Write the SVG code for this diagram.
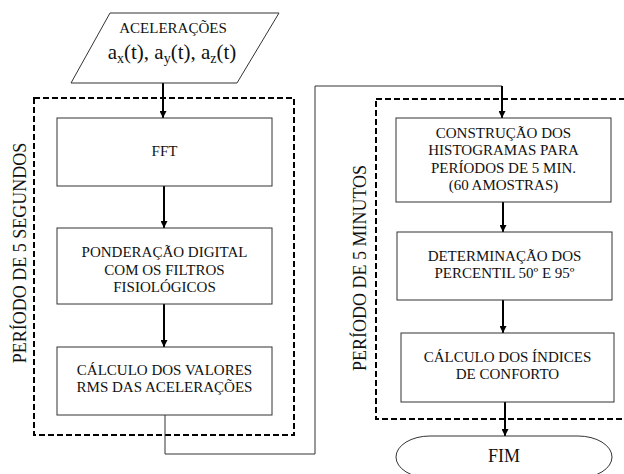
<svg xmlns="http://www.w3.org/2000/svg" width="624" height="474" viewBox="0 0 624 474" font-family="'Liberation Serif', 'DejaVu Serif', serif">
<defs>
<marker id="ah" viewBox="0 0 10 10" refX="10" refY="5" markerWidth="7" markerHeight="7" markerUnits="userSpaceOnUse" orient="auto"><path d="M0,0 L10,5 L0,10 Z" fill="#000"/></marker>
<style>
text{font-family:'Liberation Serif','DejaVu Serif',serif;fill:#111;text-anchor:middle}
.t{font-size:15px}
.box{fill:#fff;stroke:#333;stroke-width:1}
.dash{fill:none;stroke:#000;stroke-width:2;stroke-dasharray:6,3}
.arr{stroke:#000;stroke-width:2;fill:none;marker-end:url(#ah)}
.wire{stroke:#333;stroke-width:1;fill:none}
.lab{font-size:18px}
</style>
</defs>
<rect class="dash" x="34" y="98" width="260" height="337"/>
<rect class="dash" x="376" y="99" width="260" height="320"/>
<text class="lab" transform="translate(26,253) rotate(-90)">PERÍODO DE 5 SEGUNDOS</text>
<text class="lab" transform="translate(366,268) rotate(-90)">PERÍODO DE 5 MINUTOS</text>
<g id="connectors">
<line class="arr" x1="163" y1="83" x2="163" y2="118"/>
<line class="arr" x1="164" y1="186" x2="164" y2="228"/>
<line class="arr" x1="164" y1="304" x2="164" y2="347"/>
<polyline class="wire" points="165,415 165,454 315,454 315,86 502,86"/>
<line class="arr" x1="502" y1="86" x2="502" y2="118"/>
<line class="arr" x1="503" y1="202" x2="503" y2="232"/>
<line class="arr" x1="503" y1="300" x2="503" y2="333"/>
<line class="arr" x1="505" y1="402" x2="505" y2="436"/>
</g>
<g id="input">
<polygon class="box" points="110,13 279,13 237,83 71,83"/>
<text class="t" x="173" y="33">ACELERAÇÕES</text>
<text x="172" y="59" style="font-size:21px">a<tspan dy="4" style="font-size:14px">x</tspan><tspan dy="-4">(t), a</tspan><tspan dy="4" style="font-size:14px">y</tspan><tspan dy="-4">(t), a</tspan><tspan dy="4" style="font-size:14px">z</tspan><tspan dy="-4">(t)</tspan></text>
</g>
<g id="fft">
<rect class="box" x="57" y="118" width="215" height="68"/>
<text class="t" x="164.5" y="156">FFT</text>
</g>
<g id="ponderacao">
<rect class="box" x="57" y="228" width="215" height="76"/>
<text class="t" x="164.5" y="257">PONDERAÇÃO DIGITAL</text>
<text class="t" x="164.5" y="275">COM OS FILTROS</text>
<text class="t" x="164.5" y="292">FISIOLÓGICOS</text>
</g>
<g id="rms">
<rect class="box" x="57" y="347" width="215" height="68"/>
<text class="t" x="164.5" y="375">CÁLCULO DOS VALORES</text>
<text class="t" x="164.5" y="392">RMS DAS ACELERAÇÕES</text>
</g>
<g id="histogramas">
<rect class="box" x="396" y="118" width="215" height="84"/>
<text class="t" x="503.5" y="138">CONSTRUÇÃO DOS</text>
<text class="t" x="503.5" y="155">HISTOGRAMAS PARA</text>
<text class="t" x="503.5" y="173">PERÍODOS DE 5 MIN.</text>
<text class="t" x="503.5" y="190">(60 AMOSTRAS)</text>
</g>
<g id="percentil">
<rect class="box" x="397" y="232" width="215" height="68"/>
<text class="t" x="504.5" y="261">DETERMINAÇÃO DOS</text>
<text class="t" x="504.5" y="278">PERCENTIL 50º E 95º</text>
</g>
<g id="indices">
<rect class="box" x="401" y="333" width="213" height="69"/>
<text class="t" x="507.5" y="362">CÁLCULO DOS ÍNDICES</text>
<text class="t" x="507.5" y="379">DE CONFORTO</text>
</g>
<g id="fim">
<path class="box" d="M430,436 L578,436 A34,21 0 0 1 578,478 L430,478 A34,21 0 0 1 430,436 Z"/>
<text x="504" y="462" style="font-size:18px">FIM</text>
</g>
</svg>
